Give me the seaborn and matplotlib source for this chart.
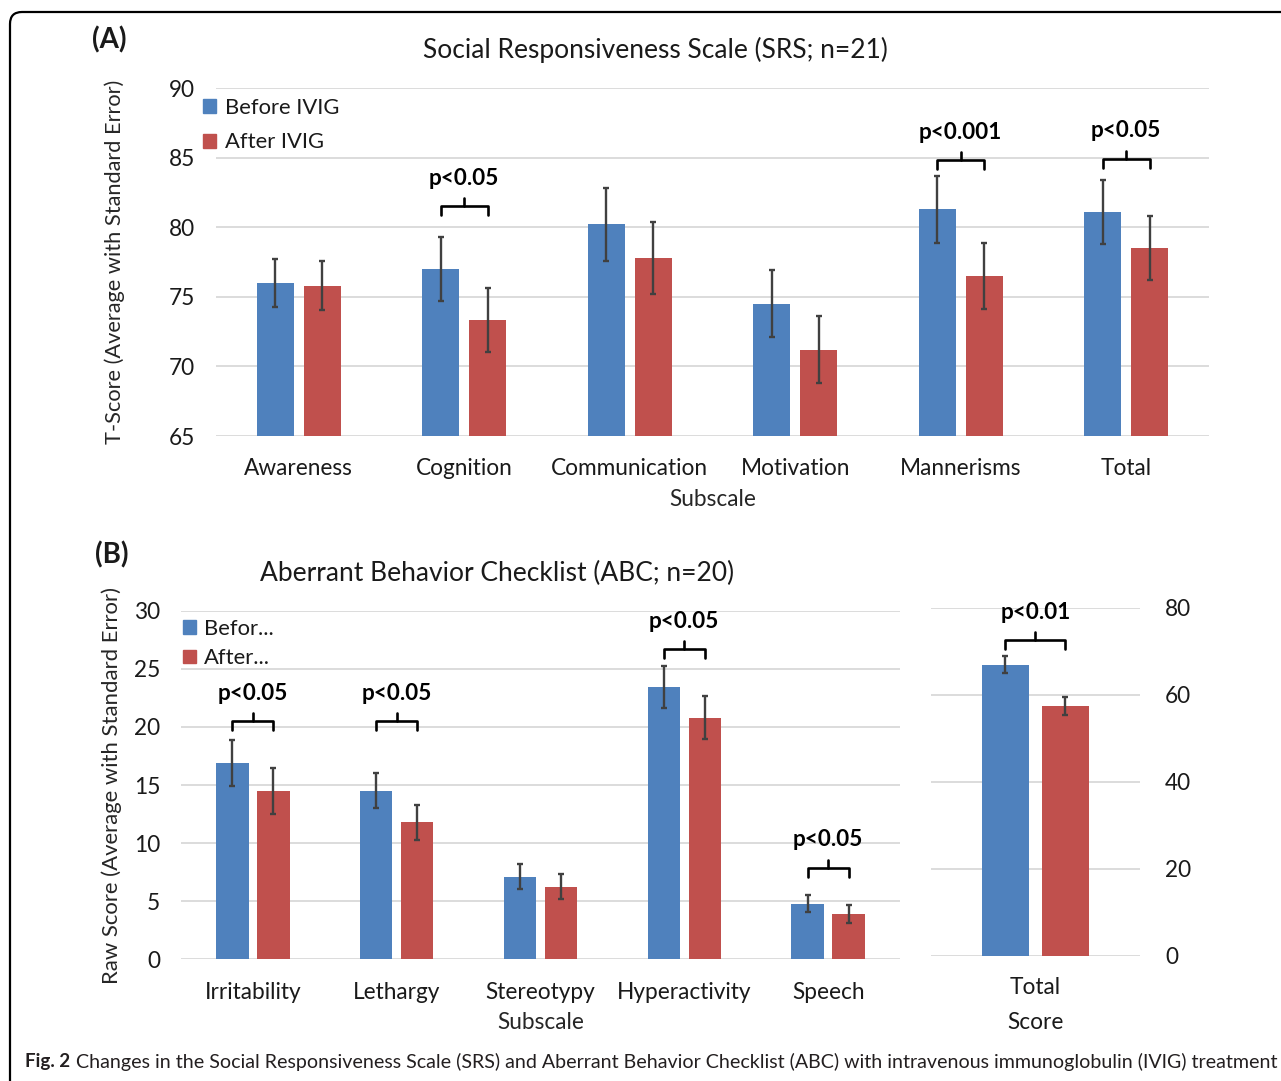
import matplotlib
matplotlib.use("Agg")
import matplotlib.pyplot as plt
import pandas as pd
import seaborn as sns
from matplotlib.patches import FancyBboxPatch, Patch
from matplotlib.transforms import IdentityTransform

# ---- Social Responsiveness Scale (T-scores: mean and standard error) ----
srs_subscales = ["Awareness", "Cognition", "Communication", "Motivation", "Mannerisms", "Total"]
srs_before = [76.0, 77.0, 80.2, 74.5, 81.3, 81.1]
srs_after = [75.8, 73.3, 77.8, 71.2, 76.5, 78.5]
srs_before_se = [1.7, 2.3, 2.6, 2.4, 2.4, 2.3]
srs_after_se = [1.75, 2.3, 2.6, 2.4, 2.35, 2.3]

# ---- Aberrant Behavior Checklist subscales (raw scores) ----
abc_subscales = ["Irritability", "Lethargy", "Stereotypy", "Hyperactivity", "Speech"]
abc_before = [16.9, 14.5, 7.1, 23.4, 4.8]
abc_after = [14.5, 11.8, 6.25, 20.8, 3.9]
abc_before_se = [2.0, 1.5, 1.07, 1.8, 0.75]
abc_after_se = [2.0, 1.5, 1.06, 1.85, 0.74]

# ---- Aberrant Behavior Checklist total score ----
abc_total_cat = ["Total\nScore"]
abc_total_before = [67.0]
abc_total_after = [57.4]
abc_total_before_se = [2.07]
abc_total_after_se = [2.1]

# significance brackets: (category, label, bracket level in data units)
srs_sig = [("Cognition", "p<0.05", 81.5), ("Mannerisms", "p<0.001", 84.8), ("Total", "p<0.05", 84.9)]
abc_sig = [("Irritability", "p<0.05", 20.5), ("Lethargy", "p<0.05", 20.5),
           ("Hyperactivity", "p<0.05", 26.7), ("Speech", "p<0.05", 7.9)]
abc_total_sig = [("Total\nScore", "p<0.01", 72.6)]

BLUE = "#4F81BD"
RED = "#C0504D"
ERR = "#404040"
GRID = "#D9D9D9"
TXT = "#1a1a1a"

sns.set_style("white")
plt.rcParams["font.family"] = ["Lato", "DejaVu Sans"]
plt.rcParams["text.color"] = TXT

W, H = 1281, 1081
fig = plt.figure(figsize=(W / 100, H / 100), dpi=100)


def rect(left, top, right, bottom):
    return [left / W, 1 - bottom / H, (right - left) / W, (bottom - top) / H]


def draw_panel(ax, cats, before, after, bse, ase, ylim, yticks, groups):
    df = pd.DataFrame({
        "Subscale": cats * 2,
        "Group": [groups[0]] * len(cats) + [groups[1]] * len(cats),
        "Score": before + after,
    })
    sns.barplot(data=df, x="Subscale", y="Score", hue="Group", order=cats,
                hue_order=list(groups), palette=[BLUE, RED], saturation=1,
                width=0.57, gap=0.21, errorbar=None, linewidth=0,
                legend=False, ax=ax, zorder=2)
    centers = {c: [] for c in cats}
    for cont, vals, errs in zip(ax.containers, [before, after], [bse, ase]):
        xs = [b.get_x() + b.get_width() / 2 for b in cont]
        ax.errorbar(xs, vals, yerr=errs, fmt="none", ecolor=ERR,
                    elinewidth=1.7, capsize=2.3, capthick=1.7, zorder=3)
        for c, x in zip(cats, xs):
            centers[c].append(x)
    ax.set_xlim(-0.5, len(cats) - 0.5)
    ax.set_ylim(*ylim)
    ax.set_yticks(yticks)
    ax.yaxis.grid(True, color=GRID, lw=1.3, zorder=0)
    ax.set_axisbelow(True)
    for s in ax.spines.values():
        s.set_visible(False)
    ax.tick_params(axis="both", length=0, labelsize=16.3, colors=TXT)
    ax.tick_params(axis="x", pad=16)
    ax.set_xlabel("")
    ax.set_ylabel("")
    return centers


def draw_brackets(ax, centers, sigs, ylim):
    upx = (ylim[1] - ylim[0]) / ax.bbox.height  # data units per pixel
    for cat, label, lvl in sigs:
        x0, x1 = centers[cat]
        xm = (x0 + x1) / 2
        kw = dict(color="black", lw=1.9, solid_capstyle="round", clip_on=False, zorder=4)
        ax.plot([x0, x0, x1, x1], [lvl - 9 * upx, lvl, lvl, lvl - 9 * upx], **kw)
        ax.plot([xm, xm], [lvl, lvl + 8 * upx], **kw)
        ax.text(xm, lvl + 28 * upx, label, ha="center", va="center",
                fontsize=16.2, fontweight="bold", color="black")


# ---------------- (A) SRS ----------------
axA = fig.add_axes(rect(216, 88, 1209, 436))
cA = draw_panel(axA, srs_subscales, srs_before, srs_after, srs_before_se, srs_after_se,
                (65, 90), [65, 70, 75, 80, 85, 90], ("Before IVIG", "After IVIG"))
axA.tick_params(axis="y", pad=15)
axA.set_xlabel("Subscale", fontsize=16.3)
axA.xaxis.set_label_coords(0.5, -0.183)
axA.xaxis.label.set_va("center")
axA.set_ylabel("T-Score (Average with Standard Error)", fontsize=15.7, va="center")
axA.yaxis.set_label_coords(-0.1017, 0.5)
draw_brackets(axA, cA, srs_sig, (65, 90))
axA.legend(handles=[Patch(color=BLUE), Patch(color=RED)], labels=["Before IVIG", "After IVIG"],
           loc="upper left", bbox_to_anchor=(203 / W, 1 - 98 / H), bbox_transform=fig.transFigure,
           frameon=False, fontsize=15.8, handlelength=0.6, handleheight=0.6,
           handletextpad=0.4, labelspacing=0.66, borderpad=0, borderaxespad=0)
fig.text(655 / W, 1 - 50 / H, "Social Responsiveness Scale (SRS; n=21)",
         ha="center", va="center", fontsize=19)
fig.text(109 / W, 1 - 40 / H, "(A)", ha="center", va="center", fontsize=20, fontweight="bold")

# ---------------- (B) ABC subscales ----------------
axB = fig.add_axes(rect(181, 610.7, 900, 959.3))
cB = draw_panel(axB, abc_subscales, abc_before, abc_after, abc_before_se, abc_after_se,
                (0, 30), [0, 5, 10, 15, 20, 25, 30], ("Befor...", "After..."))
axB.tick_params(axis="y", pad=15)
axB.set_xlabel("Subscale", fontsize=16.3)
axB.xaxis.set_label_coords(0.5, -0.18)
axB.xaxis.label.set_va("center")
axB.set_ylabel("Raw Score (Average with Standard Error)", fontsize=15.9, va="center")
axB.yaxis.set_label_coords(-0.096, 0.5)
draw_brackets(axB, cB, abc_sig, (0, 30))
axB.legend(handles=[Patch(color=BLUE), Patch(color=RED)], labels=["Befor...", "After..."],
           loc="upper left", bbox_to_anchor=(183 / W, 1 - 619 / H), bbox_transform=fig.transFigure,
           frameon=False, fontsize=15.8, handlelength=0.6, handleheight=0.6,
           handletextpad=0.35, labelspacing=0.42, borderpad=0, borderaxespad=0)
fig.text(497 / W, 1 - 573 / H, "Aberrant Behavior Checklist (ABC; n=20)",
         ha="center", va="center", fontsize=19)
fig.text(112 / W, 1 - 555 / H, "(B)", ha="center", va="center", fontsize=20, fontweight="bold")

# ---------------- (B) ABC total score ----------------
axT = fig.add_axes(rect(930.6, 608, 1140, 955.7))
cT = draw_panel(axT, abc_total_cat, abc_total_before, abc_total_after,
                abc_total_before_se, abc_total_after_se,
                (0, 80), [0, 20, 40, 60, 80], ("Befor...", "After..."))
axT.yaxis.tick_right()
axT.tick_params(axis="y", pad=18)
axT.tick_params(axis="x", pad=15)
for t in axT.get_xticklabels():
    t.set_linespacing(1.85)
draw_brackets(axT, cT, abc_total_sig, (0, 80))

# ---------------- frame and caption ----------------
frame = FancyBboxPatch((10, -60), 1400, (H - 12) + 60, boxstyle="round,pad=0,rounding_size=12",
                       transform=IdentityTransform(), fill=False, ec="black", lw=1.6)
fig.patches.append(frame)

renderer = fig.canvas.get_renderer()
cap_y = 1 - 1062 / H
fig_lbl = fig.text(25 / W, cap_y, "Fig. 2", ha="left", va="center", fontsize=13.5,
                   fontweight="bold", color="#231f20")
x_end = fig_lbl.get_window_extent(renderer).x1
cap = fig.text((x_end + 6) / W, cap_y,
               "Changes in the Social Responsiveness Scale (SRS) and Aberrant Behavior Checklist (ABC) "
               "with intravenous immunoglobulin (IVIG) treatment",
               ha="left", va="center", fontsize=13.5, color="#231f20")
target = 1278 - (x_end + 6)
cur = cap.get_window_extent(renderer).width
cap.set_fontsize(13.5 * target / cur)

fig.savefig("out.png", dpi=100, facecolor="white")
